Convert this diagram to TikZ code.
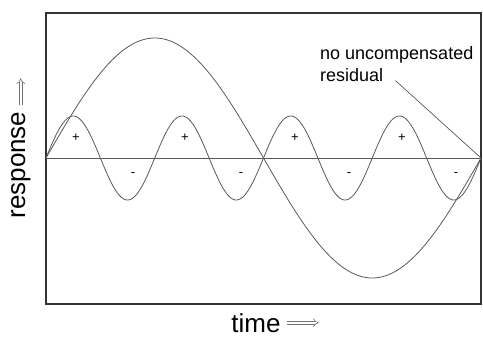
\documentclass[tikz,border=0pt]{standalone}
\usepackage{fontspec}
\setmainfont{Liberation Sans}
\usetikzlibrary{arrows.meta}
\tikzset{
  wave/.style={draw=black!65,line width=0.8pt},
  sign/.style={font=\fontsize{13}{15}\selectfont,inner sep=0pt},
  axlabel/.style={font=\fontsize{26}{30}\selectfont,inner sep=0pt},
  hollow/.style={draw=black!55,double=white,double distance=2.4pt,line width=0.6pt,-{Implies}}
}
\begin{document}
\begin{tikzpicture}[x=1pt,y=-1pt,every node/.style={font=\fontsize{18}{21}\selectfont}]
\useasboundingbox (0,0) rectangle (483,338);
% frame and zero line
\draw[line width=2.6pt,draw=black!80] (46,13) rectangle (481,304);
\coordinate (start) at (46,158);
\coordinate (stop) at (481,158);
\draw[draw=black!65,line width=0.7pt] (start) -- (stop);
% slow response and fast wobble
\draw[wave] plot[domain=46:481,samples=200] (\x,{158-120*sin(360/435*(\x-46))});
\draw[wave] plot[domain=46:481,samples=300] (\x,{158-42*sin(360/108.75*(\x-46))});
% signs of the lobes
\node[sign] (p1) at (76,138) {+};
\node[sign] (p2) at (185,138) {+};
\node[sign] (p3) at (295,138) {+};
\node[sign] (p4) at (402,138) {+};
\node[sign] (m1) at (133,175) {-};
\node[sign] (m2) at (241,175) {-};
\node[sign] (m3) at (349,175) {-};
\node[sign] (m4) at (456,175) {-};
% annotation
\node[anchor=base west,inner sep=0pt] (note) at (320,59) {no uncompensated};
\node[anchor=base west,inner sep=0pt] (resid) at (320,81) {residual};
\draw[draw=black!65,line width=0.7pt] ([xshift=12pt,yshift=-6pt]resid.east) -- (stop);
% axis labels
\node[axlabel,rotate=90,anchor=base] (ylab) at (25,165) {response};
\draw[hollow] ([yshift=6pt]ylab.east) -- ++(0,-27);
\node[axlabel,anchor=base] (xlab) at (256,332) {time};
\draw[hollow] ([xshift=6pt]xlab.east) -- ++(32,0);
\end{tikzpicture}
\end{document}
